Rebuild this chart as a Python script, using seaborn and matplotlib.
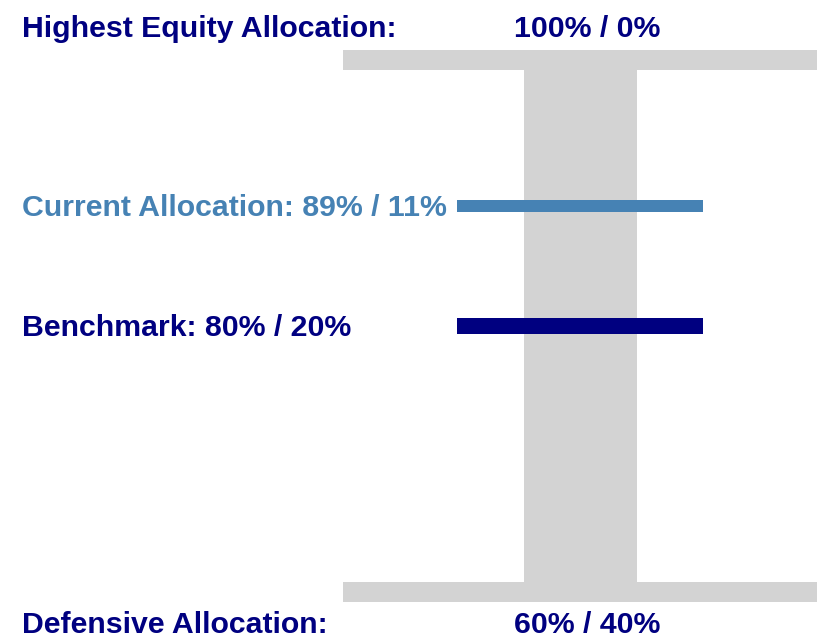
"""Equity allocation range chart: current allocation vs benchmark."""

import matplotlib.pyplot as plt
import seaborn as sns

# Data
range_labels = ["Highest Equity Allocation:", "Defensive Allocation:"]
range_equity = [100, 60]
range_split = ["100% / 0%", "60% / 40%"]

marker_labels = ["Current Allocation", "Benchmark"]
marker_equity = [89, 80]
marker_colors = ["#4682B4", "#000080"]
marker_thickness = [0.9, 1.13]

NAVY = "#000080"
GRAY = "#D3D3D3"
FS = 21.8

sns.set_style("white")
plt.rcParams["font.family"] = ["Liberation Sans", "DejaVu Sans"]

fig = plt.figure(figsize=(8.27, 6.38), dpi=100)
ax = fig.add_axes([0, 0, 1, 1])
ax.set_xlim(0, 1)
px = 13.3  # pixels per percentage point
top, bottom = max(range_equity), min(range_equity)
ax.set_ylim(bottom - (638 - 592) / px, top + 60 / px)
ax.set_axis_off()

# Gray "I" beam
bar_h = 20 / px
ax.bar(580.5 / 827, top - bottom, bottom=bottom, width=113 / 827, color=GRAY, lw=0)
for v in range_equity:
    ax.barh(v, (817 - 343) / 827, left=343 / 827, height=bar_h, color=GRAY, lw=0)

# Range labels
ax.text(22 / 827, top + 23 / px, range_labels[0], color=NAVY, fontsize=FS,
        fontweight="bold", va="baseline", ha="left")
ax.text(587 / 827, top + 23 / px, range_split[0], color=NAVY, fontsize=FS,
        fontweight="bold", va="baseline", ha="center")
ax.text(22 / 827, bottom - 41 / px, range_labels[1], color=NAVY, fontsize=FS,
        fontweight="bold", va="baseline", ha="left")
ax.text(587 / 827, bottom - 41 / px, range_split[1], color=NAVY, fontsize=FS,
        fontweight="bold", va="baseline", ha="center")

# Current allocation and benchmark markers
for label, v, c, t in zip(marker_labels, marker_equity, marker_colors, marker_thickness):
    ax.barh(v, (703 - 457) / 827, left=457 / 827, height=t, color=c, lw=0)
    ax.text(22 / 827, v - 0.72, f"{label}: {v}% / {100 - v}%", color=c,
            fontsize=FS, fontweight="bold", va="baseline", ha="left")

fig.savefig("out.png", dpi=100)
